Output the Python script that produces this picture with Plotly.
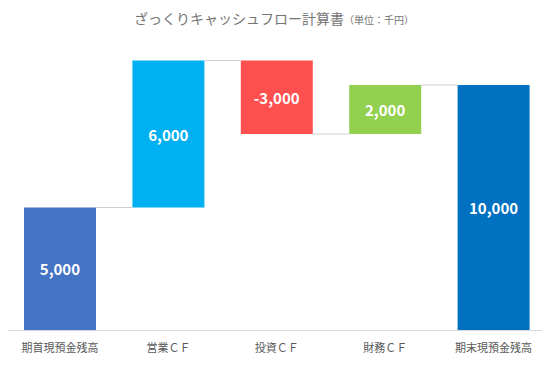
import plotly.graph_objects as go

categories = ["期首現預金残高", "営業ＣＦ", "投資ＣＦ", "財務ＣＦ", "期末現預金残高"]
values = [5000, 6000, -3000, 2000, 10000]
is_total = [True, False, False, False, True]
colors = ["#4472C4", "#00B0F0", "#FF5050", "#92D050", "#0070C0"]

# compute bases / heights from data
bases, heights, levels = [], [], []
running = 0
for v, t in zip(values, is_total):
    if t:
        bases.append(0)
        heights.append(v)
        running = v
    else:
        if v >= 0:
            bases.append(running)
            heights.append(v)
        else:
            bases.append(running + v)
            heights.append(-v)
        running += v
    levels.append(running)

labels = [f"{v:,}" for v in values]
bw = 0.664
xs = list(range(len(categories)))

fig = go.Figure()
fig.add_trace(go.Bar(
    x=xs, y=heights, base=bases, width=bw,
    marker=dict(color=colors, line=dict(width=0)),
    text=labels, textposition="inside", insidetextanchor="middle",
    textfont=dict(color="white", size=15, family="Noto Sans CJK JP"),
    texttemplate="<b>%{text}</b>",
    hoverinfo="skip",
))

for i in range(len(categories) - 1):
    fig.add_shape(type="line", xref="x", yref="y",
                  x0=i + bw / 2, x1=i + 1 - bw / 2, y0=levels[i], y1=levels[i],
                  line=dict(color="#D0D0D0", width=1))

fig.update_layout(
    width=542, height=361,
    margin=dict(l=0, r=0, t=28, b=39, autoexpand=False),
    paper_bgcolor="white", plot_bgcolor="white",
    showlegend=False,
    font=dict(family="Noto Sans CJK JP", color="#595959"),
    xaxis=dict(range=[-0.4797, 4.5203], tickmode="array", tickvals=xs, ticktext=categories,
               showgrid=False, zeroline=False, showline=True, linecolor="#D9D9D9",
               linewidth=1, ticks="", tickfont=dict(size=11, color="#595959"),
               ticklabelstandoff=8, automargin=False),
    yaxis=dict(range=[0, 12000], visible=False, showgrid=False, zeroline=False),
)

fig.add_annotation(
    xref="paper", yref="paper", x=0.5, y=1, yshift=18, xshift=-5, yanchor="middle", showarrow=False,
    text="ざっくりキャッシュフロー計算書<span style='font-size:10px'>（単位：千円）</span>",
    font=dict(size=14, color="#757575", family="Noto Sans CJK JP"),
)

fig.write_html("out.html")
